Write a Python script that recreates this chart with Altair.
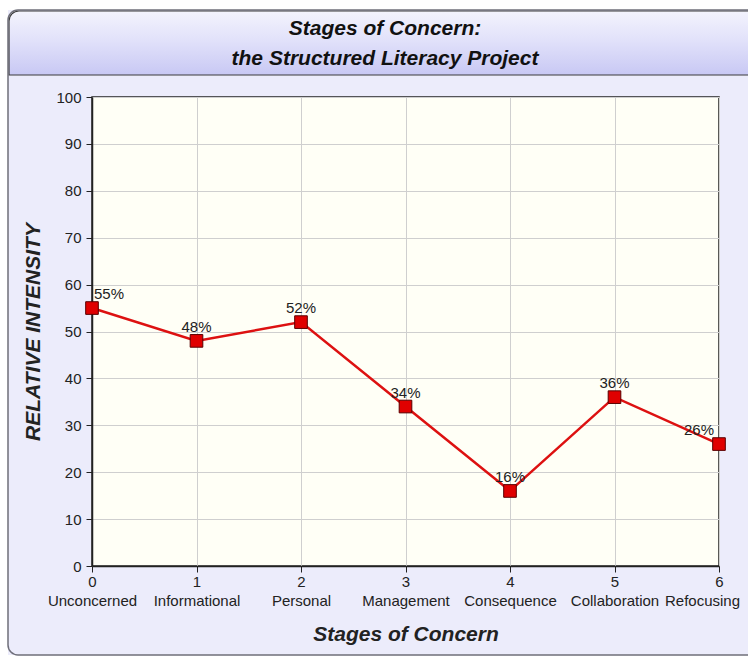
import altair as alt
import pandas as pd
import json

# ---- data ----
stage_num = [0, 1, 2, 3, 4, 5, 6]
stage_names = ["Unconcerned", "Informational", "Personal", "Management",
               "Consequence", "Collaboration", "Refocusing"]
intensity = [55, 48, 52, 34, 16, 36, 26]
y_ticks = [0, 10, 20, 30, 40, 50, 60, 70, 80, 90, 100]
title_lines = ["Stages of Concern:", "the Structured Literacy Project"]
x_title = "Stages of Concern"
y_title = "RELATIVE INTENSITY"

df = pd.DataFrame({"stage": stage_num, "name": stage_names, "value": intensity})
df["label"] = [f"{v}%" for v in intensity]

W, H = 627, 469
FONT = "Liberation Sans"
one = pd.DataFrame({"k": [0]})

# ---- decorative panel pieces (outside plot area) ----
white_left = alt.Chart(one).mark_rect(fill="white").encode(
    x=alt.value(-92), x2=alt.value(-84), y=alt.value(-97), y2=alt.value(H + 93))
white_top = alt.Chart(one).mark_rect(fill="white").encode(
    x=alt.value(-92), x2=alt.value(W + 40), y=alt.value(-97), y2=alt.value(-87))
white_bottom = alt.Chart(one).mark_rect(fill="white").encode(
    x=alt.value(-92), x2=alt.value(W + 40), y=alt.value(H + 89), y2=alt.value(H + 93))

header = alt.Chart(one).mark_rect(
    fill=alt.Gradient(
        gradient="linear",
        stops=[alt.GradientStop(color="#F3F3FD", offset=0),
               alt.GradientStop(color="#E2E2FA", offset=0.45),
               alt.GradientStop(color="#C8C8F4", offset=1)],
        x1=0, x2=0, y1=0, y2=1),
    stroke="#3a3a3a", strokeWidth=1.2,
    cornerRadiusTopLeft=10, cornerRadiusTopRight=10,
).encode(x=alt.value(-83), x2=alt.value(W + 40), y=alt.value(-86), y2=alt.value(-22))

panel = alt.Chart(one).mark_rect(
    fillOpacity=0, stroke="#6f6f7a", strokeWidth=1.5, cornerRadius=10
).encode(x=alt.value(-84), x2=alt.value(W + 40), y=alt.value(-87), y2=alt.value(H + 89))

header_text = alt.Chart(one).mark_text(
    font=FONT, fontSize=21, fontStyle="italic", fontWeight="bold", color="#111",
    align="center", baseline="alphabetic", lineHeight=30,
).encode(x=alt.value(293), y=alt.value(-62), text=alt.value(title_lines))

# ---- data chart ----
names_js = json.dumps(stage_names).replace('"', "'")
name_expr = f"{names_js}[datum.value]"

x_scale = alt.Scale(domain=[0, 6], nice=False, zero=False)
y_enc = alt.Y("value:Q",
              scale=alt.Scale(domain=[0, 100], nice=False),
              axis=alt.Axis(values=y_ticks, title=y_title, labelOverlap=False,
                            labelFlush=False,
                            labelFont=FONT, labelFontSize=15, labelColor="#222",
                            labelPadding=5, tickSize=6, tickColor="#222",
                            domainColor="#222", domainWidth=1.5,
                            gridColor="#CFCFCF", gridWidth=1,
                            titleFont=FONT, titleFontSize=21, titleFontStyle="italic",
                            titleFontWeight="bold", titleColor="#222",
                            titleAngle=270, titleX=-59, titleY=H / 2,
                            titleBaseline="middle", titleAlign="center"))

# axis with stage numbers, ticks, grid and title
x_num = alt.X("stage:Q", scale=x_scale,
              axis=alt.Axis(values=stage_num, title=x_title, orient="bottom",
                            labelOverlap=False, labelBound=False, labelFlush=False,
                            labelFont=FONT, labelFontSize=15, labelColor="#222",
                            labelPadding=2, labelBaseline="top",
                            tickSize=6, tickColor="#222", domainColor="#222",
                            domainWidth=1.5, grid=True, gridColor="#CFCFCF", gridWidth=1,
                            titleFont=FONT, titleFontSize=21, titleFontStyle="italic",
                            titleFontWeight="bold", titleColor="#222",
                            titleY=74, titleBaseline="alphabetic"))

# second bottom axis carrying the stage names
x_name = alt.X("stage:Q", scale=x_scale,
               axis=alt.Axis(values=stage_num, title=None, orient="bottom",
                             labelExpr=name_expr, labelOverlap=False,
                             labelBound=False, labelFlush=False,
                             labelFont=FONT, labelFontSize=15, labelColor="#222",
                             labelPadding=27, labelBaseline="top",
                             labelOffset={"condition": {"test": "datum.value == 6",
                                                        "value": -17},
                                          "value": 0},
                             ticks=False, tickSize=0, domain=False,
                             grid=True, gridColor="#CFCFCF", gridWidth=1))

line = alt.Chart(df).mark_line(color="#DD1111", strokeWidth=2.5).encode(x=x_name, y=y_enc)

base = alt.Chart(df).encode(x=x_num, y=y_enc)
points = base.mark_point(shape="square", filled=True, fill="#E00000",
                         stroke="#5a0000", strokeWidth=1, size=160, opacity=1)

txt_kw = dict(font=FONT, fontSize=15, color="#222", baseline="middle", dy=-14)
t_first = base.transform_filter(alt.datum.stage == 0).mark_text(
    align="left", dx=2, **txt_kw).encode(text="label:N")
t_mid = base.transform_filter((alt.datum.stage > 0) & (alt.datum.stage < 6)).mark_text(
    align="center", **txt_kw).encode(text="label:N")
t_last = base.transform_filter(alt.datum.stage == 6).mark_text(
    align="right", dx=-5, **txt_kw).encode(text="label:N")

data_layer = alt.layer(line, alt.layer(points, t_first, t_mid, t_last)).resolve_axis(x="independent")

chart = alt.layer(
    white_left, white_top, white_bottom, header, panel, header_text,
    data_layer,
).properties(
    width=W, height=H,
    autosize=alt.AutoSizeParams(type="none"),
    padding={"left": 92, "top": 97, "right": 29, "bottom": 93},
).configure(
    background="#ECECFB",
).configure_view(
    fill="#FFFFF6", stroke="#222", strokeWidth=1.5,
)

chart.save("out.html", embed_options={"renderer": "svg", "actions": False})
